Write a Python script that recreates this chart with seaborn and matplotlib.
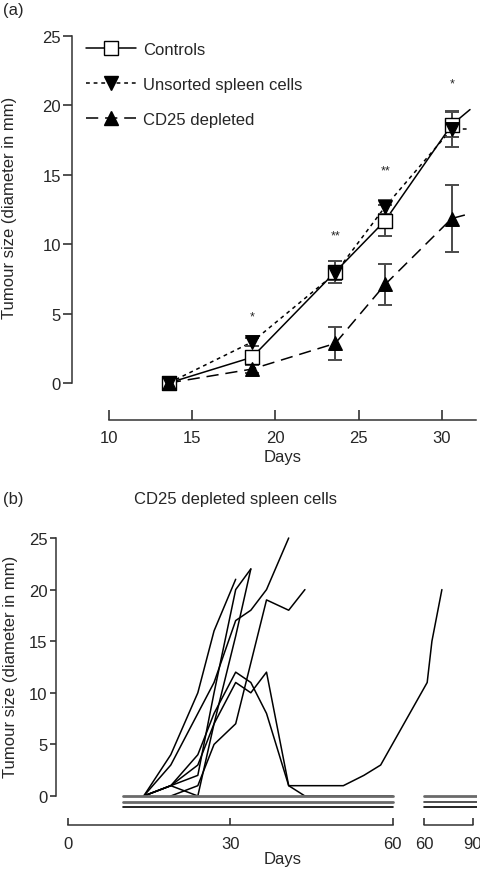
import numpy as np
import pandas as pd
import matplotlib
matplotlib.use("Agg")
import matplotlib.pyplot as plt
import matplotlib.transforms as mtransforms
from matplotlib.lines import Line2D
import seaborn as sns

# ---------------- Panel (a) data ----------------
days_a = [13.6, 18.6, 23.6, 26.6, 30.6]
controls = [0.0, 1.85, 8.0, 11.7, 18.6]
controls_err = [0.1, 0.3, 0.8, 1.1, 0.9]
unsorted = [0.0, 2.95, 7.9, 12.7, 18.3]
unsorted_err = [0.1, 0.3, 0.5, 0.5, 1.3]
cd25 = [0.0, 1.0, 2.85, 7.1, 11.85]
cd25_err = [0.1, 0.3, 1.2, 1.5, 2.4]
# each line continues a little past the last measurement
tail_day = 31.7
controls_tail = 19.7
unsorted_tail = 18.3
cd25_tail = 12.2
star_days = [18.6, 23.6, 26.6, 30.6]
star_heights = [4.8, 10.6, 15.3, 21.6]
star_labels = ["*", "**", "**", "*"]
legend_labels = ["Controls", "Unsorted spleen cells", "CD25 depleted"]
xticks_a = [10, 15, 20, 25, 30]
yticks = [0, 5, 10, 15, 20, 25]

# ---------------- Panel (b) data ----------------
m1_days = [14, 19, 24, 27, 31]
m1_size = [0, 4, 10, 16, 21]
m2_days = [14, 19, 24, 27, 31, 33.8]
m2_size = [0, 1, 2, 10, 20, 22]
m3_days = [14, 19, 24, 27, 31, 33.8]
m3_size = [0, 1, 0, 7, 15.5, 22]
m4_days = [14, 19, 24, 27, 31, 33.8, 36.7, 40.8]
m4_size = [0, 3, 8, 11, 17, 18, 20, 25]
m5_days = [19, 24, 27, 31, 36.7, 40.8, 43.8]
m5_size = [0, 1, 5, 7, 19, 18, 20]
m6_days = [14, 19, 24, 27, 31, 33.8, 36.7, 40.8, 43.8, 60]
m6_size = [0, 1, 4, 8, 12, 11, 8, 1, 0, 0]
m7_days = [14, 19, 24, 27, 31, 33.8, 36.7, 40.8, 50.9, 54.7, 57.8, 62, 64.9, 71]
m7_size = [0, 1, 3, 7, 11, 10, 12, 1, 1, 2, 3, 11, 15, 20]
# tumour-free mice, drawn as stacked flat lines
free_seg1_days = [10.2, 60]
free_seg2_days = [60, 92.3]
free_levels = [0, -0.6, -1.1]
xticks_b = [0, 30, 60, 60, 90]
xticklabels_b = ["0", "30", "60", "60", "90"]

# ---------------- style ----------------
sns.set_style("ticks")
plt.rcParams["font.family"] = ["Liberation Sans", "DejaVu Sans"]
plt.rcParams["font.size"] = 12

fig = plt.figure(figsize=(4.81, 8.70), dpi=100)
W, H = 481.0, 870.0

def rect(l, r, b, t):
    return [l / W, 1 - b / H, (r - l) / W, (b - t) / H]

# ======================= Panel (a) =======================
axa = fig.add_axes(rect(72, 476, 421, 33))

line_days = days_a + [tail_day]
groups = [
    (controls, controls_tail, controls_err, "-", "s", "white"),
    (unsorted, unsorted_tail, unsorted_err, (0, (2.5, 2.5)), "v", "black"),
    (cd25, cd25_tail, cd25_err, (0, (8, 4.5)), "^", "black"),
]
for vals, tail, err, ls, mk, fc in groups:
    dfl = pd.DataFrame({"day": line_days, "size": vals + [tail]})
    sns.lineplot(data=dfl, x="day", y="size", ax=axa, color="black",
                 linewidth=1.1, linestyle=ls, legend=False, zorder=2)
    axa.errorbar(days_a, vals, yerr=err, fmt="none", ecolor="#4a4a4a",
                 elinewidth=1.4, capsize=5, capthick=1.4, zorder=3)
for vals, tail, err, ls, mk, fc in groups:
    dfm = pd.DataFrame({"day": days_a, "size": vals})
    sns.scatterplot(data=dfm, x="day", y="size", ax=axa, marker=mk,
                    s=95, color=fc, edgecolor="black", linewidth=1.0,
                    legend=False, zorder=4)

for d, h, lab in zip(star_days, star_heights, star_labels):
    axa.text(d, h, lab, ha="center", va="center", fontsize=9)

axa.set_xlim(7.78, 32.06)
axa.set_ylim(-2.67, 25.29)
axa.set_xticks(xticks_a)
axa.set_yticks(yticks)
for s in ["top", "right"]:
    axa.spines[s].set_visible(False)
axa.spines["bottom"].set_bounds(10, 32.06)
axa.spines["left"].set_bounds(0, 25)
for s in ["bottom", "left"]:
    axa.spines[s].set_color("#333333")
    axa.spines[s].set_linewidth(1.1)
axa.tick_params(axis="x", bottom=True, direction="in", length=7, width=1.1,
                pad=7, labelsize=12, color="#222222")
axa.tick_params(axis="y", left=True, direction="out", length=6.5, width=1.1,
                pad=1.5, labelsize=12, color="#222222")
axa.set_xlabel("Days", fontsize=12)
axa.set_ylabel("Tumour size (diameter in mm)", fontsize=12)
axa.xaxis.set_label_coords(0.522, -0.093)
axa.xaxis.label.set_verticalalignment("center")
axa.yaxis.set_label_coords(-0.1535, 0.55)
axa.yaxis.label.set_verticalalignment("center")
axa.yaxis.label.set_horizontalalignment("center")

handles = []
for vals, tail, err, ls, mk, fc in groups:
    handles.append(Line2D([], [], color="black", linewidth=1.1, linestyle=ls,
                          marker=mk, markersize=9.7, markerfacecolor=fc,
                          markeredgecolor="black"))
axa.legend(handles, legend_labels, loc="upper left",
           bbox_to_anchor=(0.035, 0.975), frameon=False, borderpad=0,
           borderaxespad=0, handlelength=3.0, handletextpad=0.4,
           labelspacing=1.2, fontsize=12)

# ======================= Panel (b) =======================
BREAK, GAP, SQUEEZE = 60.0, 5.80, 0.302

def fwd(d):
    d = np.asarray(d, dtype=float)
    return np.where(d <= BREAK, d, BREAK + GAP + (d - BREAK) * SQUEEZE)

def inv(p):
    p = np.asarray(p, dtype=float)
    return np.where(p <= BREAK, p,
                    np.where(p < BREAK + GAP, BREAK,
                             BREAK + (p - BREAK - GAP) / SQUEEZE))

def after_break(v):
    return float(np.nextafter(BREAK, np.inf)) if v == BREAK else v

axb = fig.add_axes(rect(56, 477.5, 826, 536))

mice = [(m1_days, m1_size), (m2_days, m2_size), (m3_days, m3_size),
        (m4_days, m4_size), (m5_days, m5_size), (m6_days, m6_size),
        (m7_days, m7_size)]
rows = []
for i, (dd, ss) in enumerate(mice):
    for d, s in zip(dd, ss):
        rows.append({"mouse": i, "day": d, "size": s})
dfb = pd.DataFrame(rows)
sns.lineplot(data=dfb, x="day", y="size", units="mouse", estimator=None,
             sort=False, color="black", linewidth=1.1, ax=axb, legend=False,
             zorder=2)

seg1_style = [("#6a6a6a", 2.0), ("#6a6a6a", 2.0), ("black", 1.2)]
seg2_style = [("#6a6a6a", 2.0), ("#333333", 1.2), ("black", 1.2)]
seg2_days = [after_break(v) for v in free_seg2_days]
for lvl, st1, st2 in zip(free_levels, seg1_style, seg2_style):
    d1 = pd.DataFrame({"day": free_seg1_days, "size": [lvl, lvl]})
    d2 = pd.DataFrame({"day": seg2_days, "size": [lvl, lvl]})
    sns.lineplot(data=d1, x="day", y="size", ax=axb, color=st1[0],
                 linewidth=st1[1], legend=False, zorder=3)
    sns.lineplot(data=d2, x="day", y="size", ax=axb, color=st2[0],
                 linewidth=st2[1], legend=False, zorder=3)

axb.set_xscale("function", functions=(fwd, inv))
axb.set_xlim(inv(-2.22).item(), 92.8)
axb.set_ylim(-2.81, 25.29)
tick_pos = [after_break(v) if i == 3 else v for i, v in enumerate(xticks_b)]
axb.set_xticks(tick_pos)
axb.set_xticklabels(xticklabels_b)
axb.xaxis.set_minor_locator(matplotlib.ticker.NullLocator())
axb.set_yticks(yticks)
for s in ["top", "right"]:
    axb.spines[s].set_visible(False)
axb.spines["bottom"].set_bounds(0, BREAK)
axb.spines["left"].set_bounds(0, 25)
for s in ["bottom", "left"]:
    axb.spines[s].set_color("#333333")
    axb.spines[s].set_linewidth(1.1)
trans = mtransforms.blended_transform_factory(axb.transData, axb.transAxes)
axb.add_line(Line2D([after_break(BREAK), 90], [0, 0], transform=trans,
                    color="#333333", linewidth=1.1, clip_on=False))
axb.tick_params(axis="x", bottom=True, direction="in", length=5, width=1.1,
                pad=8, labelsize=12, color="#222222")
axb.tick_params(axis="y", left=True, direction="out", length=4.5, width=1.1,
                pad=1.5, labelsize=12, color="#222222")
axb.set_xlabel("Days", fontsize=12)
axb.set_ylabel("Tumour size (diameter in mm)", fontsize=12)
axb.xaxis.set_label_coords(0.5386, -0.117)
axb.xaxis.label.set_verticalalignment("center")
axb.yaxis.set_label_coords(-0.109, 0.548)
axb.yaxis.label.set_verticalalignment("center")
axb.yaxis.label.set_horizontalalignment("center")

fig.text(3 / W, 1 - 11 / H, "(a)", ha="left", va="center", fontsize=12)
fig.text(3 / W, 1 - 500 / H, "(b)", ha="left", va="center", fontsize=12)
fig.text(236 / W, 1 - 500 / H, "CD25 depleted spleen cells", ha="center",
         va="center", fontsize=12)

fig.savefig("out.png", dpi=100)
